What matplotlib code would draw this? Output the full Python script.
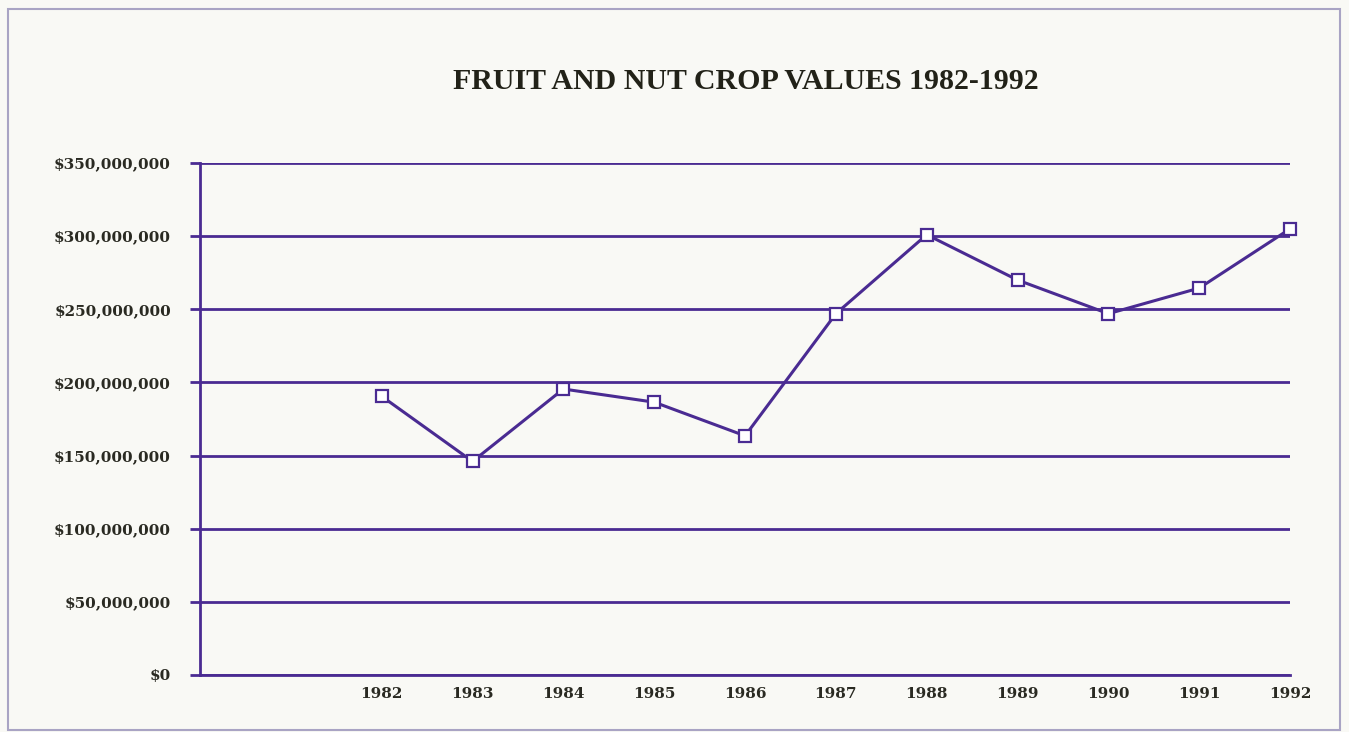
import matplotlib.pyplot as plt
from matplotlib.patches import Rectangle

years = ['1982', '1983', '1984', '1985', '1986', '1987',
         '1988', '1989', '1990', '1991', '1992']
values = [190.5e6, 146e6, 195.5e6, 186.5e6, 163.5e6, 247e6,
          301e6, 270e6, 247e6, 264.5e6, 305e6]
yticks = [0, 50e6, 100e6, 150e6, 200e6, 250e6, 300e6, 350e6]
ylabels = ['$' + format(int(v), ',') for v in yticks]

purple = '#4a2b92'
bg = '#f9f9f5'

fig = plt.figure(figsize=(13.49, 7.32), dpi=100, facecolor=bg)
fig.patches.append(Rectangle((0.006, 0.003), 0.987, 0.985, transform=fig.transFigure,
                             fill=False, edgecolor='#a9a4c4', linewidth=1.5))

ax = fig.add_axes([0.1483, 0.0779, 0.8080, 0.6994])
ax.set_facecolor(bg)

x = list(range(len(years)))
ax.plot(x, values, color=purple, linewidth=2.2, marker='s', markersize=8.5,
        markerfacecolor='white', markeredgecolor=purple, markeredgewidth=1.6,
        zorder=3, clip_on=False)

ax.set_xlim(-2, 10)
ax.set_ylim(0, 350e6)
ax.set_yticks(yticks)
ax.set_yticklabels(ylabels)
ax.set_xticks(x)
ax.set_xticklabels(years)

ax.grid(axis='y', color=purple, linewidth=2.0)
ax.set_axisbelow(True)
for s in ['top', 'right']:
    ax.spines[s].set_visible(False)
ax.spines['left'].set_color(purple)
ax.spines['left'].set_linewidth(2.0)
ax.spines['bottom'].set_color(purple)
ax.spines['bottom'].set_linewidth(2.0)

ax.tick_params(axis='y', length=7, width=2, color=purple, pad=14)
ax.tick_params(axis='x', length=0, pad=9)
for lab in ax.get_yticklabels() + ax.get_xticklabels():
    lab.set_fontfamily('DejaVu Serif')
    lab.set_fontweight('bold')
    lab.set_fontsize(11)
    lab.set_color('#2a2a22')

fig.text(0.553, 0.888, 'FRUIT AND NUT CROP VALUES 1982-1992', ha='center', va='center',
         fontsize=21.5, fontweight='bold', family='Liberation Serif', color='#222218')

fig.savefig('out.png', dpi=100, facecolor=bg)
